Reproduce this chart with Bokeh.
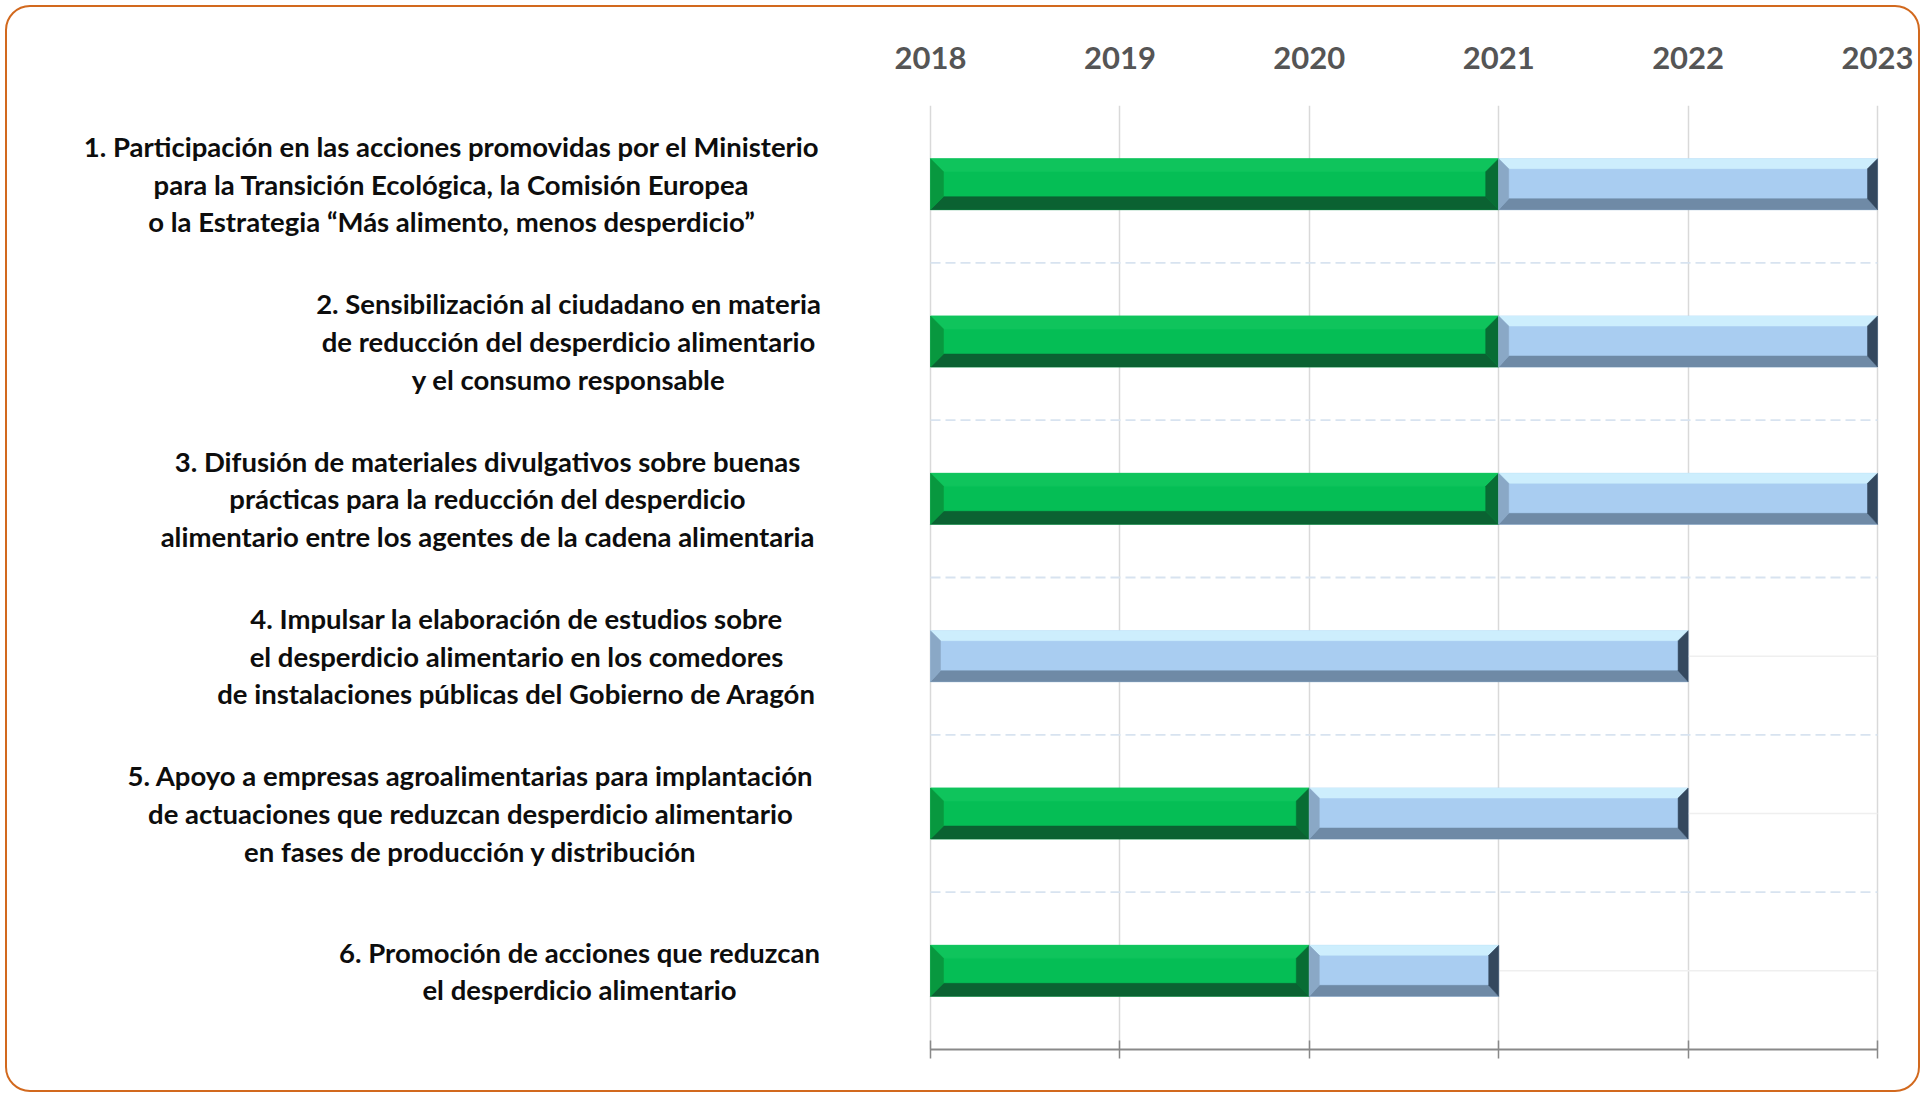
from bokeh.plotting import figure
from bokeh.models import Range1d, LinearAxis, FixedTicker, Grid, ColumnDataSource
from bokeh.core.properties import value
from bokeh.embed import file_html
from bokeh.resources import INLINE

# ---------------- data ----------------
categories = [
    "1. Participación en las acciones promovidas por el Ministerio\npara la Transición Ecológica, la Comisión Europea\no la Estrategia “Más alimento, menos desperdicio”",
    "2. Sensibilización al ciudadano en materia\nde reducción del desperdicio alimentario\ny el consumo responsable",
    "3. Difusión de materiales divulgativos sobre buenas\nprácticas para la reducción del desperdicio\nalimentario entre los agentes de la cadena alimentaria",
    "4. Impulsar la elaboración de estudios sobre\nel desperdicio alimentario en los comedores\nde instalaciones públicas del Gobierno de Aragón",
    "5. Apoyo a empresas agroalimentarias para implantación\nde actuaciones que reduzcan desperdicio alimentario\nen fases de producción y distribución",
    "6. Promoción de acciones que reduzcan\nel desperdicio alimentario",
]
green_start = [2018, 2018, 2018, 2018, 2018, 2018]
green_end   = [2021, 2021, 2021, 2018, 2020, 2020]
blue_start  = [2021, 2021, 2021, 2018, 2020, 2020]
blue_end    = [2023, 2023, 2023, 2022, 2022, 2021]
years = [2018, 2019, 2020, 2021, 2022, 2023]

# ---------------- layout constants (pixels) ----------------
W, H = 1925, 1097
AX_LEFT, AX_RIGHT = 930, 1877        # pixel span of 2018..2023
MT, MB = 105, 48
label_cx = [451, 568, 487, 516, 470, 579]   # pixel centre of each label block

n = len(categories)
frame_h = H - MT - MB
px_x = (years[-1] - years[0]) / (AX_RIGHT - AX_LEFT)   # data units per pixel
px_y = n / frame_h
bar_h = 51 * px_y

x_start = years[0] - AX_LEFT * px_x
x_end = years[-1] + (W - AX_RIGHT) * px_x

p = figure(width=W, height=H, output_backend="svg", toolbar_location=None,
           x_range=Range1d(x_start, x_end), y_range=Range1d(n, 0),
           x_axis_location=None, y_axis_location=None,
           min_border_left=0, min_border_right=0, min_border_top=MT,
           min_border_bottom=MB, outline_line_color=None,
           background_fill_color=None, border_fill_color=None)
p.grid.visible = False
p.styles = {"outline": "2.5px solid #d2691e", "outline-offset": "-7px",
            "border-radius": "30px"}

# vertical grid lines at the years
vgrid = Grid(dimension=0, ticker=FixedTicker(ticks=years),
             grid_line_color="#d9d9d9", grid_line_width=1.5)
p.add_layout(vgrid, "center")

# horizontal guide lines (category centres, solid) and boundaries (dashed)
centres = [i + 0.5 for i in range(n)]
bounds_y = [float(i) for i in range(1, n)]
p.segment(x0=[years[0]] * n, x1=[years[-1]] * n, y0=centres, y1=centres,
          line_color="#efefef", line_width=1.5)
p.segment(x0=[years[0]] * (n - 1), x1=[years[-1]] * (n - 1), y0=bounds_y, y1=bounds_y,
          line_color="#d8e3f0", line_width=1.8, line_dash="10 5")

# axes
top_axis = LinearAxis(ticker=FixedTicker(ticks=years), axis_line_color=None,
                      bounds=(years[0], years[-1]),
                      major_tick_line_color=None, minor_tick_line_color=None,
                      major_tick_out=0, major_tick_in=0, major_label_standoff=37,
                      major_label_text_font="Lato", major_label_text_font_style="bold",
                      major_label_text_font_size="31px", major_label_text_color="#555555")
p.add_layout(top_axis, "above")
bottom_axis = LinearAxis(ticker=FixedTicker(ticks=years), axis_line_color="#898989",
                         bounds=(years[0], years[-1]),
                         axis_line_width=2, major_tick_line_color="#898989",
                         major_tick_line_width=1.5, major_tick_in=9, major_tick_out=9,
                         minor_tick_line_color=None, major_label_text_color=None,
                         major_label_overrides={y: "" for y in years})
p.add_layout(bottom_axis, "below")

# bevelled bars
def bevel(x0, x1, yc, colors, bt, bb, bl, br):
    yt, yb = yc - bar_h / 2, yc + bar_h / 2
    bt, bb = bt * px_y, bb * px_y
    bl, br = bl * px_x, br * px_x
    return [
        ([x0, x1, x1, x0], [yt, yt, yb, yb], colors[0]),
        ([x0, x1, x1 - br, x0 + bl], [yt, yt, yt + bt, yt + bt], colors[1]),
        ([x0, x1, x1 - br, x0 + bl], [yb, yb, yb - bb, yb - bb], colors[2]),
        ([x0, x0 + bl, x0 + bl, x0], [yt, yt + bt, yb - bb, yb], colors[3]),
        ([x1, x1 - br, x1 - br, x1], [yt, yt + bt, yb - bb, yb], colors[4]),
    ]

green_cols = ["#05be55", "#0fc45c", "#0b6232", "#08983f", "#086d34"]
blue_cols = ["#a9cdf1", "#cdeefd", "#6f8aa6", "#8aa8c6", "#34485e"]

xs, ys, cs = [], [], []
for i in range(n):
    yc = centres[i]
    if green_end[i] > green_start[i]:
        for a, b, c in bevel(green_start[i], green_end[i], yc, green_cols, 13, 13, 13, 13):
            xs.append(a); ys.append(b); cs.append(c)
    if blue_end[i] > blue_start[i]:
        for a, b, c in bevel(blue_start[i], blue_end[i], yc, blue_cols, 10, 11, 10, 10):
            xs.append(a); ys.append(b); cs.append(c)

src = ColumnDataSource(dict(xs=xs, ys=ys, color=cs))
p.patches("xs", "ys", source=src, fill_color="color", line_color="color", line_width=0.5)

# category labels
label_x = [years[0] - (AX_LEFT - cx) * px_x for cx in label_cx]
lab_src = ColumnDataSource(dict(x=label_x, y=centres, text=categories))
p.text(x="x", y="y", text="text", source=lab_src, text_align="center",
       text_baseline="middle", text_font=value("Lato"), text_font_style="bold",
       text_font_size="27.5px", text_color="#0d0d0d", text_line_height=1.14)

open("out.html", "w").write(file_html(p, INLINE))
